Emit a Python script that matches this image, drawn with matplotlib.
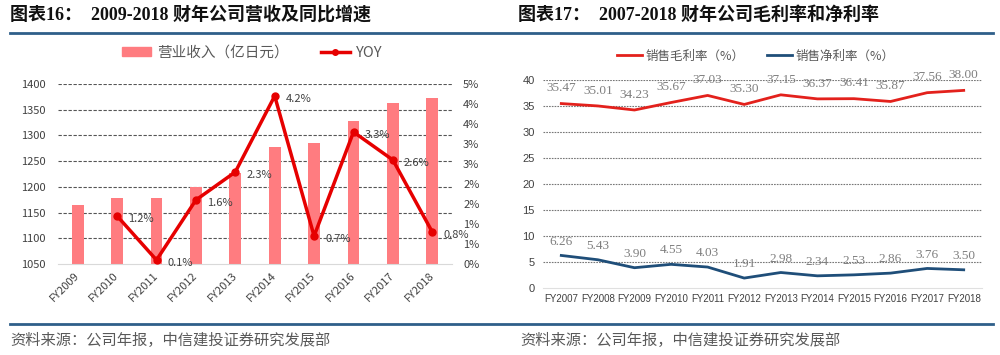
import math
import matplotlib
matplotlib.use('Agg')
import matplotlib.pyplot as plt
from matplotlib.lines import Line2D
from matplotlib.patches import Patch

plt.rcParams['font.family'] = ['Noto Sans CJK SC', 'DejaVu Sans']

# 图表16 数据
years_a = ['FY2009', 'FY2010', 'FY2011', 'FY2012', 'FY2013',
           'FY2014', 'FY2015', 'FY2016', 'FY2017', 'FY2018']
revenue = [1165, 1179, 1179, 1199, 1226, 1277, 1285, 1329, 1364, 1373]
yoy = [None, 1.2, 0.1, 1.6, 2.3, 4.2, 0.7, 3.3, 2.6, 0.8]

# 图表17 数据
years_b = ['FY2007', 'FY2008', 'FY2009', 'FY2010', 'FY2011', 'FY2012',
           'FY2013', 'FY2014', 'FY2015', 'FY2016', 'FY2017', 'FY2018']
gross = [35.47, 35.01, 34.23, 35.67, 37.03, 35.30, 37.15, 36.37, 36.41, 35.87, 37.56, 38.00]
net = [6.26, 5.43, 3.90, 4.55, 4.03, 1.91, 2.98, 2.34, 2.53, 2.86, 3.76, 3.50]

W, H = 1000, 355
fig = plt.figure(figsize=(10, 3.55), dpi=100)
fig.patch.set_facecolor('white')

txt = '#404040'
grey = '#595959'
rule = '#2F5F8A'
title_font = ['Liberation Serif', 'Noto Sans CJK SC']

# 标题和分隔线
fig.text(10 / W, 1 - 15 / H, '图表16：  2009-2018 财年公司营收及同比增速',
         fontsize=13, fontweight='bold', color='#111111', va='center', ha='left',
         family=title_font)
fig.text(518 / W, 1 - 15 / H, '图表17：  2007-2018 财年公司毛利率和净利率',
         fontsize=13, fontweight='bold', color='#111111', va='center', ha='left',
         family=title_font)
fig.add_artist(Line2D([10 / W, 993 / W], [1 - 32.5 / H] * 2, color=rule, lw=2))
fig.add_artist(Line2D([10 / W, 993 / W], [1 - 324 / H] * 2, color=rule, lw=2))
fig.text(10 / W, 1 - 340 / H, '资料来源：公司年报，中信建投证券研究发展部',
         fontsize=11, color=grey, va='center', ha='left')
fig.text(520 / W, 1 - 340 / H, '资料来源：公司年报，中信建投证券研究发展部',
         fontsize=11, color=grey, va='center', ha='left')

# ---------- 左图 ----------
ax = fig.add_axes([58 / W, 1 - 264 / H, 394 / W, 180 / H])
x = list(range(len(years_a)))
bar_c = '#FF7C80'
ax.bar(x, revenue, width=0.3, color=bar_c, zorder=2)
ax.set_xlim(-0.5, len(years_a) - 0.5)
ax.set_ylim(1050, 1400)
ax.set_yticks(range(1050, 1401, 50))
for v in range(1100, 1401, 50):
    ax.axhline(v, color='#555555', lw=0.8, ls=(0, (3, 1.5)), zorder=1)
for s in ['top', 'right', 'left']:
    ax.spines[s].set_visible(False)
ax.spines['bottom'].set_color('#D9D9D9')
ax.tick_params(axis='y', length=0, pad=9, labelsize=8, labelcolor=txt)
ax.tick_params(axis='x', length=0, pad=7, labelsize=8, labelcolor=txt)
ax.set_xticks(x)
ax.set_xticklabels(years_a, rotation=45, ha='right', va='center', rotation_mode='anchor')

ax2 = ax.twinx()
ax2.set_ylim(0, 4.5)
ticks = [i * 0.5 for i in range(10)]
ax2.set_yticks(ticks)
ax2.set_yticklabels(['%d%%' % math.floor(t + 0.5) for t in ticks])
for s in ['top', 'right', 'left', 'bottom']:
    ax2.spines[s].set_visible(False)
ax2.tick_params(axis='y', length=0, pad=8, labelsize=8, labelcolor=txt)
line_c = '#E60000'
xs = x[1:]
ys = yoy[1:]
ax2.plot(xs, ys, color=line_c, lw=2.5, marker='o', ms=5, zorder=3)
for xi, yi in zip(xs, ys):
    ax2.annotate('%.1f%%' % yi, (xi, yi), xytext=(8, -2), textcoords='offset points',
                 ha='left', va='center', fontsize=8, color=txt)

fig.legend(handles=[Patch(color=bar_c, label='营业收入（亿日元）'),
                    Line2D([], [], color=line_c, lw=2.5, marker='o', ms=4, label='YOY')],
           loc='center', bbox_to_anchor=(252 / W, 1 - 53 / H), ncol=2, frameon=False,
           fontsize=10.5, handlelength=2.0, handleheight=0.6, columnspacing=2.2,
           handletextpad=0.4, labelcolor=grey)

# ---------- 右图 ----------
bx = fig.add_axes([543 / W, 1 - 288 / H, 439 / W, 208 / H])
xb = list(range(len(years_b)))
red = '#E3211C'
blue = '#1F4E79'
bx.plot(xb, gross, color=red, lw=2, zorder=3)
bx.plot(xb, net, color=blue, lw=2, zorder=3)
bx.set_xlim(-0.5, len(years_b) - 0.5)
bx.set_ylim(0, 40)
bx.set_yticks(range(0, 41, 5))
for v in range(5, 41, 5):
    bx.axhline(v, color='#777777', lw=0.8, ls=(0, (1.5, 1)), zorder=1)
for s in ['top', 'right', 'left']:
    bx.spines[s].set_visible(False)
bx.spines['bottom'].set_color('#E0E0E0')
bx.set_xticks(xb)
bx.set_xticklabels(years_b, family=['Liberation Sans'])
for lab in bx.get_yticklabels():
    lab.set_family(['Liberation Sans'])
bx.tick_params(axis='y', length=0, pad=6, labelsize=8, labelcolor=txt)
bx.tick_params(axis='x', length=0, pad=4, labelsize=7, labelcolor=txt)
for xi, g, n in zip(xb, gross, net):
    bx.annotate('%.2f' % g, (xi, g), xytext=(0, 11), textcoords='offset points',
                ha='center', va='center', fontsize=9.5, color='#7F7F7F',
                family=['Liberation Serif'])
    bx.annotate('%.2f' % n, (xi, n), xytext=(0, 10), textcoords='offset points',
                ha='center', va='center', fontsize=9.5, color='#7F7F7F',
                family=['Liberation Serif'])

fig.legend(handles=[Line2D([], [], color=red, lw=2, label='销售毛利率（%）'),
                    Line2D([], [], color=blue, lw=2, label='销售净利率（%）')],
           loc='center', bbox_to_anchor=(756 / W, 1 - 56 / H), ncol=2, frameon=False,
           fontsize=9, handlelength=2.0, columnspacing=1.8, handletextpad=0.3,
           labelcolor=grey)

fig.savefig('out.png', dpi=100, facecolor='white')
